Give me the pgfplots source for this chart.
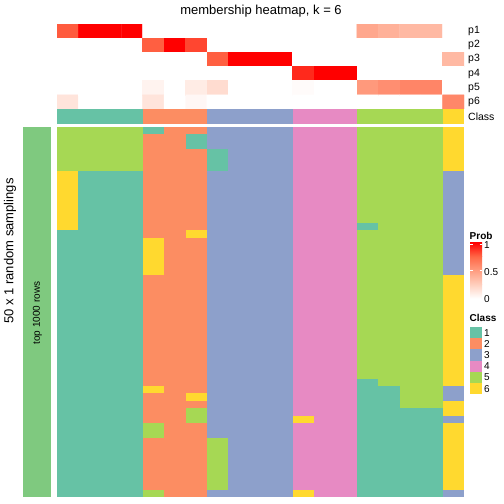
\documentclass[border=0pt]{standalone}
\usepackage{fontspec}
\setmainfont{Liberation Sans}
\usepackage{pgfplots}
\pgfplotsset{compat=1.18}
\definecolor{c1}{HTML}{66C2A5}
\definecolor{c2}{HTML}{FC8D62}
\definecolor{c3}{HTML}{8DA0CB}
\definecolor{c4}{HTML}{E78AC3}
\definecolor{c5}{HTML}{A6D854}
\definecolor{c6}{HTML}{FFD92F}
\definecolor{sidebar}{HTML}{7FC97F}
\definecolor{w25}{RGB}{255,207,190}
\definecolor{w50}{RGB}{255,157,129}
\definecolor{w75}{RGB}{255,103,70}
\pgfplotsset{colormap={wr}{rgb255=(255,255,255) rgb255=(255,207,190) rgb255=(255,157,129) rgb255=(255,103,70) rgb255=(255,0,0)}}
\newcommand{\cell}[5]{\addplot[draw=none,fill=#5,forget plot] coordinates {(#1,#3) (#2,#3) (#2,#4) (#1,#4)} --cycle;}
\begin{document}
\begin{tikzpicture}
\begin{scope}[x=1pt,y=1pt]
\path[use as bounding box] (0,0) rectangle (504,504);
% title
\node[font=\fontsize{13}{15}\selectfont] at (261,493) {membership heatmap, k = 6};
\end{scope}
% probability heatmap
\begin{axis}[at={(57pt,395pt)}, anchor=south west, scale only axis,
  width=407pt, height=85pt,
  xmin=0.5, xmax=19.5, ymin=0.5, ymax=6.5, y dir=reverse,
  axis line style={draw=none}, major tick length=0pt, tick style={draw=none},
  xtick=\empty, ytick={1,2,3,4,5,6}, yticklabels={p1,p2,p3,p4,p5,p6},
  yticklabel pos=right,
  yticklabel style={font=\fontsize{10.5}{12}\selectfont, anchor=west, inner sep=0pt, xshift=4pt},
  colormap name=wr, point meta min=0, point meta max=1]
\addplot[matrix plot*, mesh/cols=19, point meta=explicit] table[meta=p] {
x y p
1 1 0.78
2 1 1
3 1 1
4 1 1
5 1 0
6 1 0
7 1 0
8 1 0
9 1 0
10 1 0
11 1 0
12 1 0
13 1 0
14 1 0
15 1 0.45
16 1 0.40
17 1 0.36
18 1 0.36
19 1 0
1 2 0
2 2 0
3 2 0
4 2 0
5 2 0.77
6 2 1
7 2 0.83
8 2 0
9 2 0
10 2 0
11 2 0
12 2 0
13 2 0
14 2 0
15 2 0
16 2 0
17 2 0
18 2 0
19 2 0
1 3 0
2 3 0
3 3 0
4 3 0
5 3 0
6 3 0
7 3 0
8 3 0.77
9 3 1
10 3 1
11 3 1
12 3 0
13 3 0
14 3 0
15 3 0
16 3 0
17 3 0
18 3 0
19 3 0.36
1 4 0
2 4 0
3 4 0
4 4 0
5 4 0
6 4 0
7 4 0
8 4 0
9 4 0
10 4 0
11 4 0
12 4 0.9
13 4 1
14 4 1
15 4 0
16 4 0
17 4 0
18 4 0
19 4 0
1 5 0
2 5 0
3 5 0
4 5 0
5 5 0.06
6 5 0
7 5 0.1
8 5 0.18
9 5 0
10 5 0
11 5 0
12 5 0.02
13 5 0
14 5 0
15 5 0.52
16 5 0.57
17 5 0.61
18 5 0.61
19 5 0
1 6 0.14
2 6 0
3 6 0
4 6 0
5 6 0.14
6 6 0
7 6 0.04
8 6 0
9 6 0
10 6 0
11 6 0
12 6 0
13 6 0
14 6 0
15 6 0
16 6 0
17 6 0
18 6 0
19 6 0.6
};
\end{axis}
% class annotation row
\begin{axis}[at={(57pt,380pt)}, anchor=south west, scale only axis,
  width=407pt, height=14.5pt,
  xmin=0, xmax=19, ymin=0, ymax=1,
  axis line style={draw=none}, major tick length=0pt, tick style={draw=none},
  xtick=\empty, ytick={0.5}, yticklabels={Class},
  yticklabel pos=right,
  yticklabel style={font=\fontsize{10.5}{12}\selectfont, anchor=west, inner sep=0pt, xshift=4pt}]
\cell{0}{4}{0}{1}{c1}
\cell{4}{7}{0}{1}{c2}
\cell{7}{11}{0}{1}{c3}
\cell{11}{14}{0}{1}{c4}
\cell{14}{18}{0}{1}{c5}
\cell{18}{19}{0}{1}{c6}
\end{axis}
% main heatmap: columns 0..19, rows 0..50 (top to bottom)
\begin{axis}[at={(57pt,7pt)}, anchor=south west, scale only axis,
  width=407pt, height=370.3pt,
  xmin=0, xmax=19, ymin=0, ymax=50, y dir=reverse,
  axis line style={draw=none}, major tick length=0pt, tick style={draw=none},
  xtick=\empty, ytick=\empty]
% class 1 block (columns 1-4)
\cell{0}{4}{0}{6}{c5}
\cell{0}{4}{6}{50}{c1}
\cell{0}{1}{6}{14}{c6}
% class 2 block (columns 5-7)
\cell{4}{7}{0}{50}{c2}
\cell{4}{5}{0}{1}{c1}
\cell{4}{5}{15}{20}{c6}
\cell{4}{5}{35}{36}{c6}
\cell{4}{5}{40}{42}{c5}
\cell{4}{5}{49}{50}{c5}
\cell{6}{7}{1}{3}{c1}
\cell{6}{7}{14}{15}{c6}
\cell{6}{7}{36}{37}{c6}
\cell{6}{7}{38}{40}{c5}
% class 3 block (columns 8-11)
\cell{7}{11}{0}{50}{c3}
\cell{7}{8}{3}{6}{c1}
\cell{7}{8}{42}{49}{c5}
% class 4 block (columns 12-14)
\cell{11}{14}{0}{50}{c4}
\cell{11}{12}{39}{40}{c6}
\cell{11}{12}{49}{50}{c6}
% class 5 block (columns 15-18)
\cell{14}{18}{0}{50}{c5}
\cell{14}{15}{13}{14}{c1}
\cell{14}{15}{34}{50}{c1}
\cell{15}{16}{35}{50}{c1}
\cell{16}{18}{38}{50}{c1}
% class 6 block (column 19)
\cell{18}{19}{0}{50}{c6}
\cell{18}{19}{6}{20}{c3}
\cell{18}{19}{35}{37}{c3}
\cell{18}{19}{39}{40}{c3}
\cell{18}{19}{49}{50}{c3}
\end{axis}
\begin{scope}[x=1pt,y=1pt]
% side bar
\fill[sidebar] (23,7) rectangle (51,377.3);
\node[rotate=90, font=\fontsize{10}{12}\selectfont] at (37.5,191) {top 1000 rows};
\node[rotate=90, font=\fontsize{13}{15}\selectfont] at (10,253) {50 x 1 random samplings};
% legend: Prob
\node[anchor=west, font=\bfseries\fontsize{10}{12}\selectfont, inner sep=0pt] at (469.5,268) {Prob};
\shade[bottom color=white, top color=w25] (470,205.5) rectangle (482,219.5);
\shade[bottom color=w25, top color=w50] (470,219.5) rectangle (482,233.5);
\shade[bottom color=w50, top color=w75] (470,233.5) rectangle (482,247.5);
\shade[bottom color=w75, top color=red] (470,247.5) rectangle (482,261.5);
\draw[white, line width=0.6pt] (470,233.5) -- (472.5,233.5) (479.5,233.5) -- (482,233.5);
\draw[white, line width=0.6pt] (470,259.5) -- (472.5,259.5) (479.5,259.5) -- (482,259.5);
\begin{scope}[font=\fontsize{10}{12}\selectfont]
\node[anchor=west, inner sep=0pt] at (484,259) {1};
\node[anchor=west, inner sep=0pt] at (484,231.5) {0.5};
\node[anchor=west, inner sep=0pt] at (484,204.5) {0};
\end{scope}
% legend: Class
\node[anchor=west, font=\bfseries\fontsize{10}{12}\selectfont, inner sep=0pt] at (469.5,186) {Class};
\foreach \i/\c in {1/c1,2/c2,3/c3,4/c4,5/c5,6/c6}{
  \fill[\c] (470,{177-(\i-1)*11.2}) rectangle (482,{165.8-(\i-1)*11.2});
  \node[anchor=west, inner sep=0pt, font=\fontsize{10}{12}\selectfont] at (484,{171.4-(\i-1)*11.2}) {\i};
}
\end{scope}
\end{tikzpicture}
\end{document}
